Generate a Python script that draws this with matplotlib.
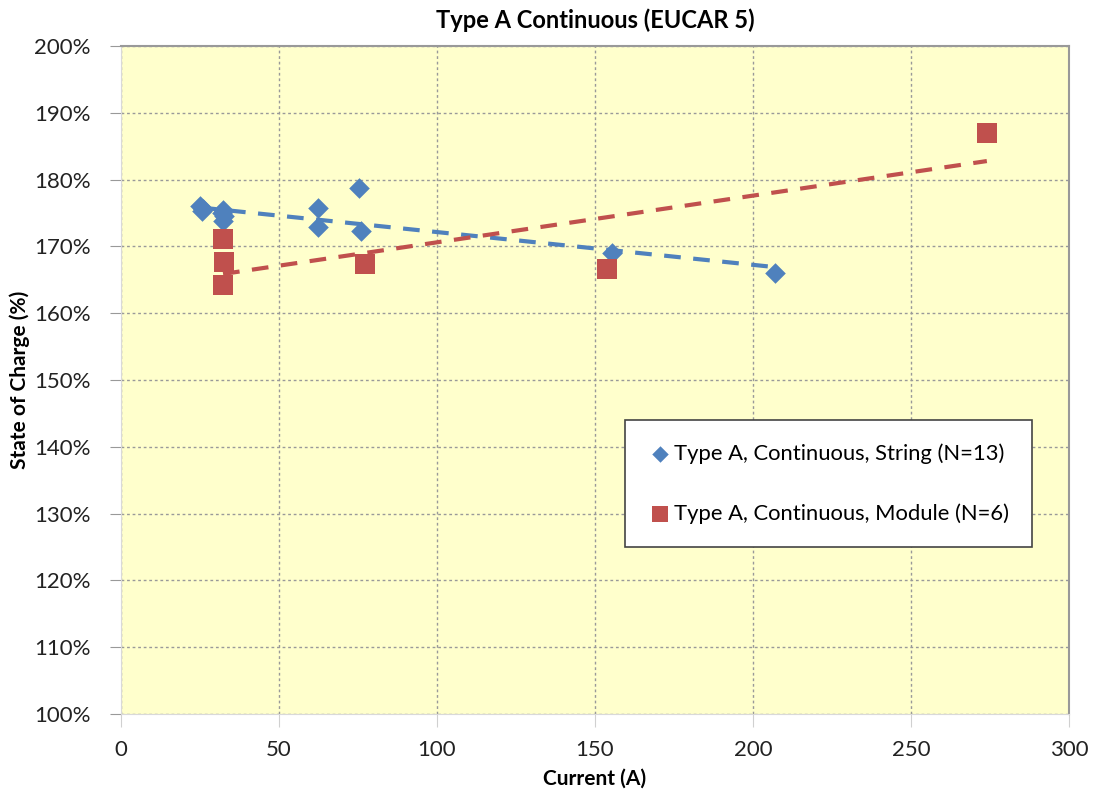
import numpy as np
import matplotlib
matplotlib.use("Agg")
import matplotlib.pyplot as plt
from matplotlib.ticker import FuncFormatter, MultipleLocator

plt.rcParams['font.family'] = ['Lato', 'DejaVu Sans']

# String data (Current A, State of Charge %)
string_current = [25, 25.5, 26, 32.3, 32.5, 32.3, 62.3, 62.3, 75.3, 75.8, 155.4, 207, 32.0]
string_soc = [176.0, 175.3, 175.6, 175.4, 174.5, 173.8, 175.8, 172.9, 178.7, 172.3, 169.0, 166.0, 175.0]

# Module data
module_current = [32.3, 32.5, 32.3, 77.2, 153.8, 274]
module_soc = [171.1, 167.6, 164.2, 167.3, 166.6, 187.0]

title = "Type A Continuous (EUCAR 5)"
xlabel = "Current (A)"
ylabel = "State of Charge (%)"
label_string = "Type A, Continuous, String (N=13)"
label_module = "Type A, Continuous, Module (N=6)"

blue = "#4F81BD"
red = "#C0504D"

fig = plt.figure(figsize=(10.96, 7.94), dpi=100)
ax = fig.add_axes([121/1096, 1-714/794, (1069-121)/1096, (714-46)/794])
ax.set_facecolor("#FFFFCC")

ax.scatter(string_current, string_soc, marker="D", s=110, color=blue, zorder=3,
           label=label_string, linewidths=0)
ax.scatter(module_current, module_soc, marker="s", s=190, color=red, zorder=3,
           label=label_module, linewidths=0)

# linear trendlines
for xs, ys, c in [(string_current, string_soc, blue), (module_current, module_soc, red)]:
    p = np.polyfit(xs, ys, 1)
    xx = np.array([min(xs), max(xs)])
    ax.plot(xx, np.polyval(p, xx), color=c, lw=3, ls=(0, (4, 3)), zorder=2)

ax.set_xlim(0, 300)
ax.set_ylim(100, 200)
ax.xaxis.set_major_locator(MultipleLocator(50))
ax.yaxis.set_major_locator(MultipleLocator(10))
ax.yaxis.set_major_formatter(FuncFormatter(lambda v, p: f"{v:.0f}%"))

ax.grid(True, color="#999999", ls=(0, (2, 2)), lw=1)
ax.set_axisbelow(True)

for s in ["top", "right"]:
    ax.spines[s].set_color("#999999")
    ax.spines[s].set_linewidth(1.5)
ax.spines["left"].set_color("#D9D9D9")
ax.spines["bottom"].set_color("#D9D9D9")

ax.tick_params(axis="y", length=8, color="#999999", labelsize=16, pad=14)
ax.tick_params(axis="x", length=9, color="#D0D0D0", labelsize=16, pad=10)
for lbl in ax.get_xticklabels() + ax.get_yticklabels():
    lbl.set_color("#222222")

ax.set_title(title, fontsize=17, fontweight="bold", pad=13)
ax.set_xlabel(xlabel, fontsize=15, fontweight="bold", labelpad=6)
ax.set_ylabel(ylabel, fontsize=15, fontweight="bold", labelpad=3)

leg = ax.legend(loc="upper left", bbox_to_anchor=((625-121)/948, (714-420)/668),
                fontsize=15.8, frameon=True, fancybox=False, handletextpad=0.1,
                borderpad=1.05, labelspacing=1.8, handlelength=1.1,
                markerscale=0.8, borderaxespad=0)
leg.get_frame().set_edgecolor("#444444")
leg.get_frame().set_facecolor("white")
leg.get_frame().set_linewidth(1.2)
leg.get_frame().set_alpha(1)

fig.savefig("out.png", dpi=100)
